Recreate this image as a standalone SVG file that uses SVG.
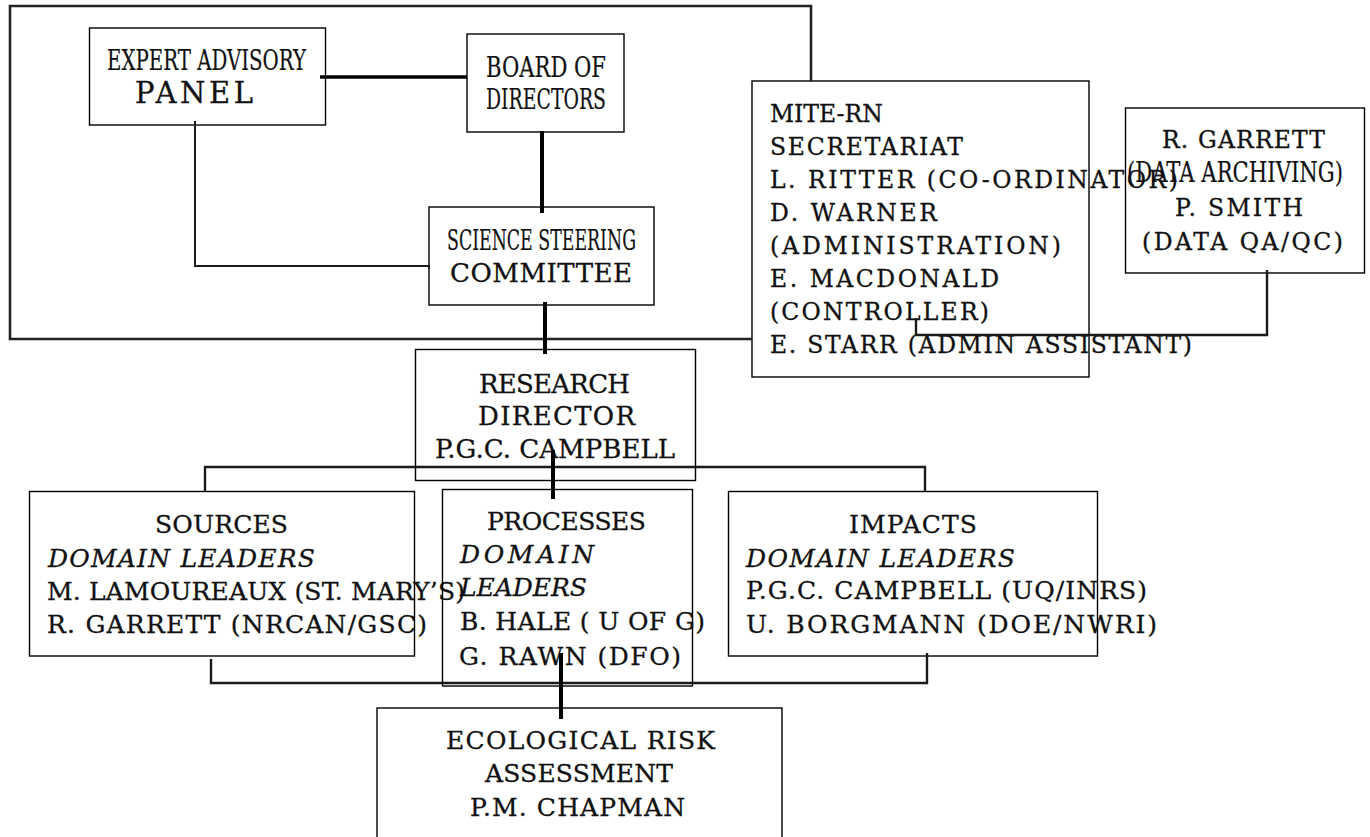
<svg xmlns="http://www.w3.org/2000/svg" width="1370" height="837" viewBox="0 0 1370 837">
<style>
.box{fill:none;stroke:#000;stroke-width:1.4}
text{font-family:"DejaVu Serif","Liberation Serif",serif;font-size:25px;fill:#111;stroke:#111;stroke-width:0.3}
.it{font-style:italic}
.sq{font-size:27px;stroke-width:0.2}
.big{font-size:26px}
.xl{font-size:29px}
.sm{font-size:23.5px}
.thick{fill:none;stroke:#000;stroke-width:4}
.thin{fill:none;stroke:#1a1a1a;stroke-width:2.4}
.frame{fill:none;stroke:#222;stroke-width:2.6}
</style>
<rect width="1370" height="837" fill="#fff"/>
<g id="expert-advisory-panel">
<rect class="box" x="89.5" y="28" width="236" height="97"/>
<text class="sq" x="107" y="70" textLength="199" lengthAdjust="spacingAndGlyphs">EXPERT ADVISORY</text>
<text class="xl" x="135" y="103" textLength="118">PANEL</text>
</g>
<g id="board-of-directors">
<rect class="box" x="467" y="34" width="157" height="98"/>
<text class="sq" x="486" y="77" textLength="120" lengthAdjust="spacingAndGlyphs">BOARD OF</text>
<text class="sq" x="486" y="109" textLength="120" lengthAdjust="spacingAndGlyphs">DIRECTORS</text>
</g>
<g id="science-steering-committee">
<rect class="box" x="429" y="207" width="225" height="98"/>
<text class="sq" x="447" y="250" textLength="189" lengthAdjust="spacingAndGlyphs">SCIENCE STEERING</text>
<text class="big" x="450" y="282" textLength="182">COMMITTEE</text>
</g>
<g id="research-director">
<rect class="box" x="415.5" y="349.5" width="280" height="131"/>
<text class="big" x="479" y="393" textLength="151">RESEARCH</text>
<text class="big" x="478" y="425" textLength="157">DIRECTOR</text>
<text class="big" x="435" y="458" textLength="240">P.G.C. CAMPBELL</text>
</g>
<g id="mite-rn-secretariat">
<rect class="box" x="752" y="81" width="337" height="296"/>
<text class="sm" x="770" y="122">MITE-RN</text>
<text class="sm" x="770" y="155" textLength="193">SECRETARIAT</text>
<text class="sm" x="770" y="188" textLength="408">L. RITTER (CO-ORDINATOR)</text>
<text class="sm" x="770" y="221" textLength="167">D. WARNER</text>
<text class="sm" x="770" y="254" textLength="291">(ADMINISTRATION)</text>
<text class="sm" x="770" y="287" textLength="229">E. MACDONALD</text>
<text class="sm" x="770" y="320" textLength="219">(CONTROLLER)</text>
<text class="sm" x="770" y="353" textLength="422">E. STARR (ADMIN ASSISTANT)</text>
</g>
<g id="data-management">
<rect class="box" x="1125.5" y="108" width="239" height="165"/>
<text class="sm" x="1162" y="148" textLength="163">R. GARRETT</text>
<text class="sq" x="1127" y="182" textLength="216" lengthAdjust="spacingAndGlyphs">(DATA ARCHIVING)</text>
<text class="sm" x="1175" y="216" textLength="128">P. SMITH</text>
<text class="sm" x="1142" y="250" textLength="201">(DATA QA/QC)</text>
</g>
<g id="sources">
<rect class="box" x="29.5" y="491.5" width="385" height="164.5"/>
<text x="155" y="533" textLength="133">SOURCES</text>
<text class="it" x="48" y="567" textLength="267">DOMAIN LEADERS</text>
<text x="47" y="600" textLength="418">M. LAMOUREAUX (ST. MARY’S)</text>
<text x="47" y="633" textLength="380">R. GARRETT (NRCAN/GSC)</text>
</g>
<g id="processes">
<rect class="box" x="442.5" y="489.5" width="250" height="196.5"/>
<text x="487" y="530" textLength="159">PROCESSES</text>
<text class="it" x="460" y="563" textLength="134">DOMAIN</text>
<text class="it" x="460" y="596" textLength="127">LEADERS</text>
<text x="460" y="630" textLength="245">B. HALE ( U OF G)</text>
<text x="459" y="665" textLength="222">G. RAWN (DFO)</text>
</g>
<g id="impacts">
<rect class="box" x="728.5" y="491.5" width="369" height="164.5"/>
<text x="849" y="533" textLength="128">IMPACTS</text>
<text class="it" x="746" y="567" textLength="269">DOMAIN LEADERS</text>
<text x="746" y="599" textLength="401">P.G.C. CAMPBELL (UQ/INRS)</text>
<text x="746" y="633" textLength="411">U. BORGMANN (DOE/NWRI)</text>
</g>
<g id="ecological-risk-assessment">
<rect class="box" x="377" y="708" width="405" height="140"/>
<text x="446" y="749" textLength="269">ECOLOGICAL RISK</text>
<text x="485" y="782" textLength="188">ASSESSMENT</text>
<text x="470" y="816" textLength="215">P.M. CHAPMAN</text>
</g>
<g id="connectors">
<path class="frame" d="M752,339 H10 V6 H811 V81"/>
<path class="thick" d="M320,77 H467" style="stroke-width:3.5"/>
<path class="thick" d="M542,131 V213"/>
<path class="thin" d="M195,121 V266 H429 v3" style="stroke-width:2"/>
<path class="thick" d="M545,302 V354"/>
<path class="thin" d="M205,492 V467 H925 V491"/>
<path class="thick" d="M553,450 V499"/>
<path class="thin" d="M211,659 V683 H927 V653"/>
<path class="thick" d="M561,653 V719"/>
<path class="thin" d="M916,318 V335 H1267 V270"/>
</g>
</svg>
